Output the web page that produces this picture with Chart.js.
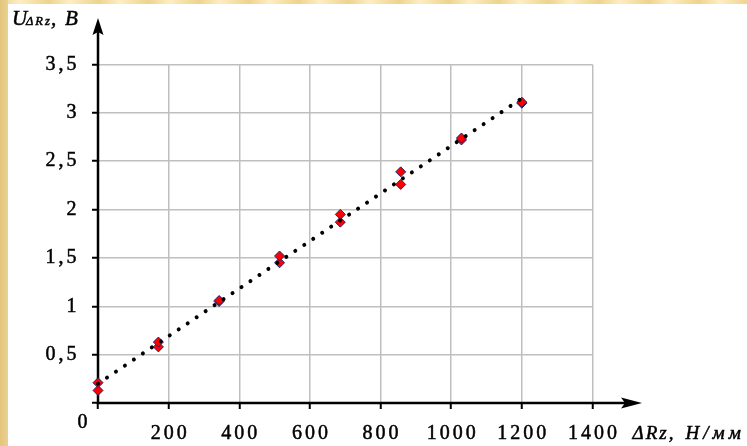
<!DOCTYPE html>
<html>
<head>
<meta charset="utf-8">
<title>U(ΔRz)</title>
<style>
  html, body { margin: 0; padding: 0; background: #fff; }
  #frame { position: relative; width: 747px; height: 446px; overflow: hidden; background: #fff; }
  #edgeTop { position: absolute; left: 0; top: 0; width: 747px; height: 4px;
    background: repeating-linear-gradient(90deg, #efd592 0px, #fdeec3 20px, #f5e0a6 34px, #eed28d 50px); }
  #edgeLeft { position: absolute; left: 0; top: 0; width: 8px; height: 446px;
    background: linear-gradient(90deg, #e3c47b, #ead291); }
  canvas { position: absolute; left: 0; top: 0; }
</style>
<script src="https://cdn.jsdelivr.net/npm/chart.js@4"></script>
</head>
<body>
<div id="frame">
  <div id="edgeTop"></div>
  <div id="edgeLeft"></div>
  <canvas id="chart" width="747" height="446"></canvas>
</div>
<script>
// Stiffness ΔRz, N/mm
const stiffness = [0, 171, 343, 514, 686, 857, 1029, 1200];
// Output voltage, V (two measurement runs)
const voltageRun1 = [0.21, 0.63, 1.06, 1.52, 1.95, 2.39, 2.74, 3.11];
const voltageRun2 = [0.13, 0.58, 1.05, 1.45, 1.87, 2.26, 2.72, 3.10];
// Linear trend line end points
const trendX = [0, 1200];
const trendY = [0.20, 3.15];
// Tick labels
const xTickLabels = ['0', '200', '400', '600', '800', '1000', '1200', '1400'];
const yTickLabels = ['0', '0,5', '1', '1,5', '2', '2,5', '3', '3,5'];

const SERIF = "'Liberation Serif', 'Times New Roman', serif";
const SPACING = '3px';
const TEXT_STROKE = 0.5;

function toPoints(xs, ys) {
  return xs.map((x, i) => ({ x: x, y: ys[i] }));
}

const markerStyle = {
  pointStyle: 'rectRot',
  pointRadius: 5,
  pointHoverRadius: 5,
  pointBackgroundColor: '#ff0000',
  pointBorderColor: '#1f2470',
  pointBorderWidth: 1,
  showLine: false,
  clip: false,
  order: 1
};

function drawText(ctx, text, x, y) {
  ctx.fillText(text, x, y);
  ctx.strokeText(text, x, y);
}

// Axes with arrow heads, the shared origin label and the axis titles
const arrowAxes = {
  id: 'arrowAxes',
  beforeLayout(chart) { chart.ctx.letterSpacing = SPACING; },
  beforeDraw(chart) { chart.ctx.letterSpacing = SPACING; },
  beforeDatasetsDraw(chart) {
    const { ctx, chartArea, scales: { x, y } } = chart;
    const ox = x.getPixelForValue(0);
    const oy = y.getPixelForValue(0);
    const yTip = chartArea.top - 46.5;
    const xTip = chartArea.right + 49.5;
    ctx.save();
    ctx.strokeStyle = '#000';
    ctx.fillStyle = '#000';
    ctx.lineWidth = 2.5;
    ctx.lineCap = 'butt';
    ctx.beginPath();
    ctx.moveTo(ox, oy + 1.25);
    ctx.lineTo(ox, yTip + 12);
    ctx.moveTo(ox - 1.25, oy);
    ctx.lineTo(xTip - 14, oy);
    ctx.stroke();
    // vertical arrow head
    ctx.beginPath();
    ctx.moveTo(ox, yTip);
    ctx.lineTo(ox + 5.5, yTip + 17);
    ctx.lineTo(ox, yTip + 14);
    ctx.lineTo(ox - 5.5, yTip + 17);
    ctx.closePath();
    ctx.fill();
    // horizontal arrow head
    ctx.beginPath();
    ctx.moveTo(xTip, oy);
    ctx.lineTo(xTip - 21, oy - 5.5);
    ctx.lineTo(xTip - 17, oy);
    ctx.lineTo(xTip - 21, oy + 5.5);
    ctx.closePath();
    ctx.fill();
    ctx.restore();
  },
  afterDraw(chart) {
    const { ctx, chartArea, scales: { x, y } } = chart;
    const ox = x.getPixelForValue(0);
    const oy = y.getPixelForValue(0);
    ctx.save();
    ctx.fillStyle = '#000';
    ctx.strokeStyle = '#000';
    ctx.lineWidth = TEXT_STROKE;
    ctx.textBaseline = 'alphabetic';
    ctx.letterSpacing = '0px';
    // origin label
    ctx.font = '20px ' + SERIF;
    ctx.textAlign = 'center';
    drawText(ctx, xTickLabels[0], ox - 15.5, oy + 24.5);
    // y axis title: U with subscript ΔRz, then unit
    ctx.textAlign = 'left';
    const ty = chartArea.top - 39.5;
    ctx.font = 'italic 21px ' + SERIF;
    drawText(ctx, 'U', 12, ty);
    ctx.letterSpacing = '2px';
    ctx.font = 'italic 12.5px ' + SERIF;
    drawText(ctx, 'ΔRz', 26, ty);
    ctx.letterSpacing = '0px';
    ctx.font = 'italic 21px ' + SERIF;
    drawText(ctx, ',', 51, ty);
    drawText(ctx, 'В', 65, ty);
    // x axis title
    const tx = chartArea.right + 40;
    const tb = oy + 36;
    ctx.letterSpacing = '2px';
    ctx.font = 'italic 19px ' + SERIF;
    drawText(ctx, 'ΔRz,', tx, tb);
    ctx.letterSpacing = '4px';
    drawText(ctx, 'Н/мм', tx + 53, tb);
    ctx.restore();
  }
};

new Chart(document.getElementById('chart'), {
  type: 'scatter',
  data: {
    datasets: [
      Object.assign({ label: 'run 1', data: toPoints(stiffness, voltageRun1) }, markerStyle),
      Object.assign({ label: 'run 2', data: toPoints(stiffness, voltageRun2) }, markerStyle),
      {
        label: 'trend',
        data: toPoints(trendX, trendY),
        showLine: true,
        borderColor: '#000',
        borderWidth: 4,
        borderDash: [0.01, 10.8],
        borderCapStyle: 'round',
        pointRadius: 0,
        pointHoverRadius: 0,
        clip: false,
        order: 0
      }
    ]
  },
  options: {
    responsive: false,
    animation: false,
    events: [],
    layout: { padding: { top: 64.5, right: 154.5, left: 0, bottom: 0 } },
    plugins: { legend: { display: false }, tooltip: { enabled: false } },
    scales: {
      x: {
        type: 'linear',
        min: 0,
        max: 1400,
        afterFit(scale) { scale.height = 43; },
        border: { display: false },
        grid: { color: '#bfbfbf', lineWidth: 1.5, tickColor: '#000', tickWidth: 2, tickLength: 6 },
        ticks: {
          stepSize: 200,
          autoSkip: false,
          maxRotation: 0,
          padding: 12.5,
          labelOffset: 1.5,
          color: '#000',
          textStrokeColor: '#000',
          textStrokeWidth: TEXT_STROKE,
          font: { family: SERIF, size: 20 },
          callback: (v, i) => (i === 0 ? '' : xTickLabels[i])
        }
      },
      y: {
        type: 'linear',
        min: 0,
        max: 3.5,
        afterFit(scale) { scale.width = 98; },
        border: { display: false },
        grid: { color: '#bfbfbf', lineWidth: 1.5, tickColor: '#000', tickWidth: 2, tickLength: 6 },
        ticks: {
          stepSize: 0.5,
          autoSkip: false,
          padding: 12.5,
          color: '#000',
          textStrokeColor: '#000',
          textStrokeWidth: TEXT_STROKE,
          font: { family: SERIF, size: 20 },
          callback: (v, i) => (i === 0 ? '' : yTickLabels[i])
        }
      }
    }
  },
  plugins: [arrowAxes]
});
</script>
</body>
</html>
